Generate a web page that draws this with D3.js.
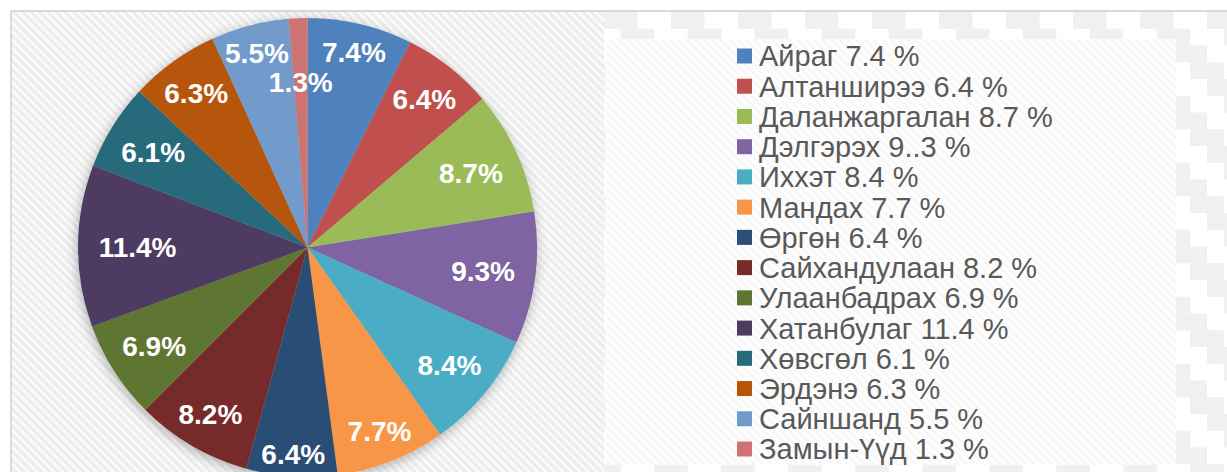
<!DOCTYPE html>
<html>
<head>
<meta charset="utf-8">
<script src="https://cdn.jsdelivr.net/npm/d3@7"></script>
<style>
  html, body { margin: 0; padding: 0; background: #ffffff; }
  svg { display: block; font-family: "Liberation Sans", Arial, sans-serif; }
</style>
</head>
<body>
<div id="chart"></div>
<script>
// Pie chart of shares by soum, labels inside, legend on the right.

const soums = ["Айраг", "Алтанширээ", "Даланжаргалан", "Дэлгэрэх", "Иххэт", "Мандах",
  "Өргөн", "Сайхандулаан", "Улаанбадрах", "Хатанбулаг", "Хөвсгөл", "Эрдэнэ",
  "Сайншанд", "Замын-Үүд"];
const shares = [7.4, 6.4, 8.7, 9.3, 8.4, 7.7, 6.4, 8.2, 6.9, 11.4, 6.1, 6.3, 5.5, 1.3];
// legend text as written in the source (including its typo)
const legendText = ["Айраг 7.4 %", "Алтанширээ 6.4 %", "Даланжаргалан 8.7 %", "Дэлгэрэх 9..3 %",
  "Иххэт 8.4 %", "Мандах 7.7 %", "Өргөн 6.4 %", "Сайхандулаан 8.2 %", "Улаанбадрах 6.9 %",
  "Хатанбулаг 11.4 %", "Хөвсгөл 6.1 %", "Эрдэнэ 6.3 %", "Сайншанд 5.5 %", "Замын-Үүд 1.3 %"];
const palette = ["#4f81bd", "#c0504d", "#9bbb59", "#8064a2", "#4bacc6", "#f79646", "#2c4d75",
  "#772c2a", "#5f7530", "#4d3b62", "#276a7c", "#b65708", "#729aca", "#cd7371"];

(function () {
  const W = 1227, H = 472;
  const cx = 307.5, cy = 247.5, R = 229.5;

  const svg = d3.select("#chart").append("svg")
    .attr("width", W)
    .attr("height", H);

  const defs = svg.append("defs");

  // diagonal hatch behind the pie
  const hatch = defs.append("pattern")
    .attr("id", "hatch")
    .attr("width", 6).attr("height", 6)
    .attr("patternUnits", "userSpaceOnUse")
    .attr("patternTransform", "rotate(-45)");
  hatch.append("rect").attr("width", 6).attr("height", 6).attr("fill", "#fafafa");
  hatch.append("rect").attr("width", 3).attr("height", 6).attr("fill", "#ececec");

  // faint hatch for the legend box
  const hatch2 = defs.append("pattern")
    .attr("id", "hatch2")
    .attr("width", 6).attr("height", 6)
    .attr("patternUnits", "userSpaceOnUse")
    .attr("patternTransform", "rotate(-45)");
  hatch2.append("rect").attr("width", 6).attr("height", 6).attr("fill", "#fefefe");
  hatch2.append("rect").attr("width", 3).attr("height", 6).attr("fill", "#f8f8f8");

  // staircase pattern on the right side
  const steps = defs.append("pattern")
    .attr("id", "steps")
    .attr("x", 604).attr("y", 12)
    .attr("width", 67).attr("height", 67)
    .attr("patternUnits", "userSpaceOnUse");
  steps.append("rect").attr("width", 67).attr("height", 67).attr("fill", "#ffffff");
  [0, 1, 2, 3].forEach(k => {
    const x0 = k * 16.75, y0 = k * 16.75;
    steps.append("rect").attr("x", x0).attr("y", y0).attr("width", 33.5).attr("height", 16.75).attr("fill", "#f0f0f0");
    steps.append("rect").attr("x", x0 - 67).attr("y", y0).attr("width", 33.5).attr("height", 16.75).attr("fill", "#f0f0f0");
  });

  const shadow = defs.append("filter")
    .attr("id", "shadow")
    .attr("x", "-20%").attr("y", "-20%")
    .attr("width", "140%").attr("height", "140%");
  shadow.append("feDropShadow")
    .attr("dx", -1).attr("dy", 3)
    .attr("stdDeviation", 6)
    .attr("flood-color", "#000")
    .attr("flood-opacity", 0.3);

  // frame and backgrounds
  svg.append("rect").attr("x", 12).attr("y", 12).attr("width", 592).attr("height", H - 12)
    .attr("fill", "url(#hatch)");
  svg.append("rect").attr("x", 604).attr("y", 12).attr("width", W - 604).attr("height", H - 12)
    .attr("fill", "url(#steps)");
  svg.append("path")
    .attr("d", `M11,${H} V11 H${W}`)
    .attr("fill", "none")
    .attr("stroke", "#d9d9d9")
    .attr("stroke-width", 2);

  // legend box
  svg.append("rect").attr("x", 605).attr("y", 39).attr("width", 571).attr("height", 426)
    .attr("fill", "url(#hatch2)");

  // pie
  const pie = d3.pie().sort(null).value(d => d);
  const arcs = pie(shares);
  const arc = d3.arc().innerRadius(0).outerRadius(R);

  const g = svg.append("g").attr("transform", `translate(${cx},${cy})`);

  g.append("g")
    .attr("filter", "url(#shadow)")
    .selectAll("path")
    .data(arcs)
    .join("path")
    .attr("d", arc)
    .attr("fill", (d, i) => palette[i]);

  // labels: Excel-like "best fit" inside the pie edge
  const fmt = v => d3.format(".1f")(v) + "%";
  const placed = [];
  const boxH = 28;
  const labels = g.append("g")
    .selectAll("text")
    .data(arcs)
    .join("text")
    .attr("text-anchor", "middle")
    .attr("dy", "0.36em")
    .attr("fill", "#ffffff")
    .attr("font-weight", "bold")
    .attr("font-size", 28)
    .text(d => fmt(d.data));

  labels.each(function (d) {
    const w = this.getComputedTextLength();
    const a = (d.startAngle + d.endAngle) / 2;
    let dist = 0.91 * R - (w / 2) * Math.abs(Math.sin(a));
    const pos = () => [dist * Math.sin(a), -dist * Math.cos(a)];
    const hits = (x, y) => placed.some(b =>
      Math.abs(b.x - x) < (b.w + w) / 2 && Math.abs(b.y - y) < boxH);
    let [x, y] = pos();
    while (hits(x, y) && dist > 40) {
      dist -= 2;
      [x, y] = pos();
    }
    placed.push({ x, y, w });
    d3.select(this).attr("x", x).attr("y", y);
  });

  // legend
  const legendY = d3.scalePoint()
    .domain(d3.range(soums.length))
    .range([56, 449]);

  const items = svg.append("g")
    .selectAll("g")
    .data(soums)
    .join("g")
    .attr("transform", (d, i) => `translate(737,${legendY(i)})`);

  items.append("rect")
    .attr("x", 0).attr("y", -7.5)
    .attr("width", 15).attr("height", 15)
    .attr("fill", (d, i) => palette[i]);

  items.append("text")
    .attr("x", 22)
    .attr("dy", "0.36em")
    .attr("font-size", 29)
    .attr("fill", "#595959")
    .text((d, i) => legendText[i]);
})();
</script>
</body>
</html>
